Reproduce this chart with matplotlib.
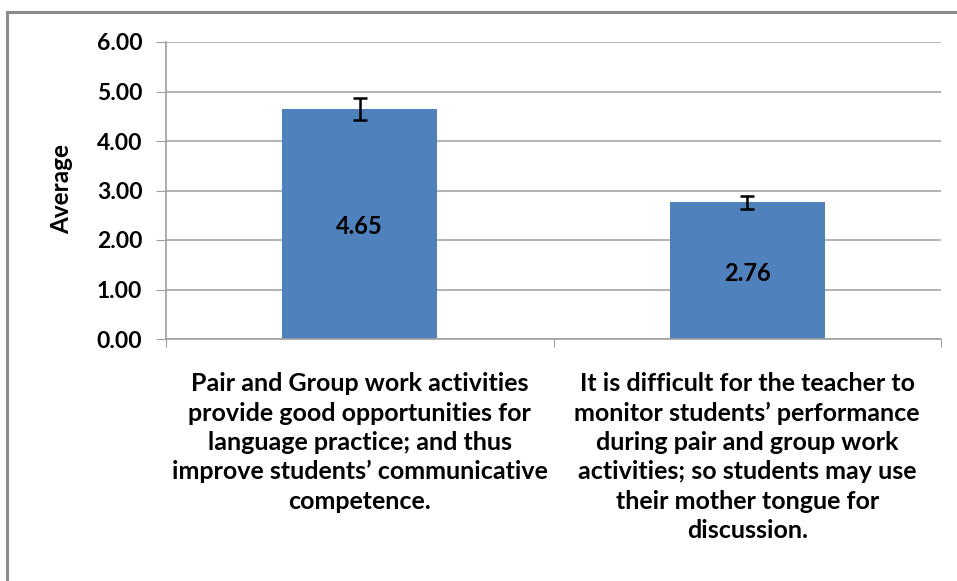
import matplotlib.pyplot as plt
from matplotlib.patches import Rectangle

plt.rcParams['font.family'] = ['Lato', 'DejaVu Sans']

# data
categories = [
    "Pair and Group work activities\nprovide good opportunities for\nlanguage practice; and thus\nimprove students\u2019 communicative\ncompetence.",
    "It is difficult for the teacher to\nmonitor students\u2019 performance\nduring pair and group work\nactivities; so students may use\ntheir mother tongue for\ndiscussion.",
]
averages = [4.65, 2.76]
errors = [0.22, 0.13]
y_ticks = [0, 1, 2, 3, 4, 5, 6]

fig = plt.figure(figsize=(9.57, 5.81), dpi=100)
W, H = 957, 581
ax = fig.add_axes([166 / W, 1 - 339 / H, (941 - 166) / W, (339 - 42) / H])

# outer chart frame (only top and left edges visible)
fig.patches.append(Rectangle((7 / W, -0.1), 1.2, 1 - 12 / H + 0.1,
                             transform=fig.transFigure, fill=False,
                             edgecolor='#8c8c8c', linewidth=2.2))

x = list(range(len(categories)))
ax.bar(x, averages, width=0.4, color='#4f81bd', zorder=2)
ax.errorbar(x, averages, yerr=errors, fmt='none', ecolor='black',
            elinewidth=1.8, capsize=5, capthick=1.8, zorder=3)

for xi, v in zip(x, averages):
    ax.text(xi, v / 2 - 0.05, f"{v:.2f}", ha='center', va='center',
            fontsize=17, fontweight='bold', color='black', zorder=4)

ax.set_xlim(-0.5, 1.5)
ax.set_ylim(0, 6)
ax.set_yticks(y_ticks)
ax.set_yticklabels([f"{t:.2f}" for t in y_ticks], fontsize=16.5, fontweight='bold')
fig.text(62 / W, 1 - 189 / H, "Average", rotation=90, ha='center', va='center',
         fontsize=17.5, fontweight='bold')

ax.set_xticks([-0.5, 0.5, 1.5], minor=False)
ax.set_xticklabels([])
ax.set_xticks(x, minor=True)
ax.set_xticklabels(categories, minor=True, fontsize=18, fontweight='bold',
                   linespacing=1.33)
ax.tick_params(axis='x', which='minor', length=0, pad=24)
ax.tick_params(axis='x', which='major', length=6, color='#a0a0a0')
ax.tick_params(axis='y', length=7, color='#a0a0a0', pad=10)

ax.grid(axis='y', color='#a6a6a6', linewidth=1.2, zorder=0)
for side in ['top', 'right']:
    ax.spines[side].set_visible(False)
for side in ['left', 'bottom']:
    ax.spines[side].set_color('#a0a0a0')
    ax.spines[side].set_linewidth(1.2)

fig.savefig("out.png", dpi=100)
